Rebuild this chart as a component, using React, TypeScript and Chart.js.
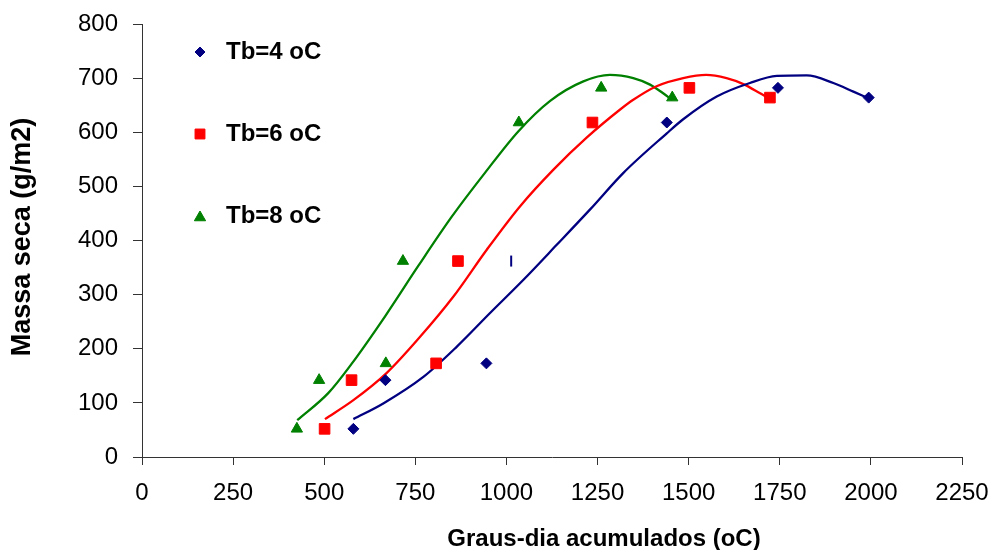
import React, { useEffect, useRef } from 'react';
import { Chart, registerables } from 'chart.js';
import { drawPoint } from 'chart.js/helpers';

Chart.register(...registerables);

// ---- data ----
const seriesNames = ['Tb=4 oC', 'Tb=6 oC', 'Tb=8 oC'];
const seriesColors = ['#000080', '#FF0000', '#008000'];
const seriesStyles = ['rectRot', 'rect', 'triangle'];

const tb4X = [580, 668, 945, 1013, 1440, 1745, 1994];
const tb4Y = [52, 142, 173, 362, 618, 682, 664];
const tb6X = [501, 575, 807, 867, 1236, 1502, 1723];
const tb6Y = [52, 142, 173, 362, 618, 682, 664];
const tb8X = [425, 486, 669, 716, 1034, 1260, 1455];
const tb8Y = [52, 142, 173, 362, 618, 682, 664];

// fitted curves
const fit4X = [580, 662, 772, 864, 955, 1046, 1138, 1229, 1321, 1440, 1485, 1577, 1668, 1742, 1824, 1897, 1952, 1993];
const fit4Y = [70, 99, 148, 204, 266, 327, 392, 457, 525, 598, 624, 666, 691, 704, 705, 691, 675, 663];
const fit6X = [502, 580, 671, 763, 854, 946, 1037, 1129, 1220, 1312, 1348, 1412, 1485, 1548, 1604, 1650, 1696, 1719];
const fit6Y = [70, 105, 155, 222, 296, 383, 463, 531, 590, 642, 660, 685, 700, 706, 700, 689, 672, 663];
const fit8X = [426, 511, 575, 667, 758, 850, 941, 1033, 1120, 1211, 1284, 1348, 1394, 1430, 1454];
const fit8Y = [68, 118, 172, 260, 353, 444, 525, 602, 658, 694, 706, 700, 688, 672, 660];

const xTitle = 'Graus-dia acumulados (oC)';
const yTitle = 'Massa seca (g/m2)';
const xMin = 0, xMax = 2250, xStep = 250;
const yMin = 0, yMax = 800, yStep = 100;

// index of the Tb=4 point that is drawn as a short vertical stroke
const tb4OddIndex = 3;

const FONT = '"Liberation Sans", Arial, Helvetica, sans-serif';

const zip = (xs: number[], ys: number[]) => xs.map((x, i) => ({ x, y: ys[i] }));

const overlayPlugin = {
  id: 'overlay',
  afterDraw(chart: any) {
    const ctx = chart.ctx as CanvasRenderingContext2D;
    const area = chart.chartArea;
    ctx.save();
    // legend inside the plot
    ctx.font = `bold 24px ${FONT}`;
    ctx.textBaseline = 'middle';
    ctx.textAlign = 'left';
    const lx = area.left + 58;
    const lys = [area.top + 28, area.top + 110, area.top + 192];
    seriesNames.forEach((name, i) => {
      ctx.fillStyle = seriesColors[i];
      ctx.strokeStyle = seriesColors[i];
      ctx.lineWidth = 1;
      const radius = i === 0 ? 5 : i === 1 ? 7 : 6.5;
      drawPoint(ctx, { pointStyle: seriesStyles[i], radius, rotation: 0, borderWidth: 1 } as any, lx, lys[i] + (i === 2 ? 1.5 : 0));
      ctx.fillStyle = '#000';
      ctx.fillText(name, lx + 26, lys[i]);
    });
    // x title
    ctx.textAlign = 'center';
    ctx.fillText(xTitle, 604, 539);
    // y title
    ctx.translate(23, 237);
    ctx.rotate(-Math.PI / 2);
    ctx.font = `bold 27px ${FONT}`;
    ctx.fillText(yTitle, 0, 0);
    ctx.restore();
  },
};

const clearPadding = (s: any) => {
  s.paddingTop = 0;
  s.paddingBottom = 0;
  s.paddingLeft = 0;
  s.paddingRight = 0;
};

export default function App() {
  const ref = useRef<HTMLCanvasElement | null>(null);
  useEffect(() => {
    document.body.style.margin = '0';
    const canvas = ref.current!;
    const pointDs = (label: string, xs: number[], ys: number[], idx: number) => ({
      label,
      data: zip(xs, ys),
      showLine: false,
      backgroundColor: seriesColors[idx],
      borderColor: seriesColors[idx],
      pointBackgroundColor: seriesColors[idx],
      pointBorderColor: seriesColors[idx],
      pointStyle: (c: any) => (idx === 0 && c.dataIndex === tb4OddIndex ? 'line' : seriesStyles[idx]),
      pointRotation: (c: any) => (idx === 0 && c.dataIndex === tb4OddIndex ? 90 : 0),
      pointRadius: () => (idx === 0 ? 5.5 : idx === 1 ? 7.5 : 6.5),
      pointBorderWidth: (c: any) => (idx === 0 && c.dataIndex === tb4OddIndex ? 2 : 1),
    });
    const curveDs = (label: string, xs: number[], ys: number[], idx: number) => ({
      label,
      data: zip(xs, ys),
      showLine: true,
      borderColor: seriesColors[idx],
      borderWidth: 2.3,
      pointRadius: 0,
      fill: false,
      cubicInterpolationMode: 'monotone' as const,
    });
    const chart = new Chart(canvas, {
      type: 'scatter',
      data: {
        datasets: [
          pointDs(seriesNames[0], tb4X, tb4Y, 0),
          pointDs(seriesNames[1], tb6X, tb6Y, 1),
          pointDs(seriesNames[2], tb8X, tb8Y, 2),
          curveDs('fit ' + seriesNames[0], fit4X, fit4Y, 0),
          curveDs('fit ' + seriesNames[1], fit6X, fit6Y, 1),
          curveDs('fit ' + seriesNames[2], fit8X, fit8Y, 2),
        ] as any,
      },
      options: {
        responsive: false,
        animation: false,
        events: [],
        layout: { padding: { left: 0, top: 24, right: 28, bottom: 0 } },
        plugins: {
          legend: { display: false },
          tooltip: { enabled: false },
        },
        scales: {
          x: {
            type: 'linear',
            min: xMin,
            max: xMax,
            ticks: {
              stepSize: xStep,
              color: '#000',
              font: { size: 24, family: FONT },
              padding: 14,
              maxRotation: 0,
              autoSkip: false,
              callback: (v: any) => String(v),
            },
            grid: { drawOnChartArea: false, drawTicks: true, tickLength: 8, color: '#333', lineWidth: 1 },
            border: { color: '#333', width: 1 },
            afterFit: (s: any) => { s.height = 93; clearPadding(s); },
          },
          y: {
            type: 'linear',
            min: yMin,
            max: yMax,
            ticks: {
              stepSize: yStep,
              color: '#000',
              font: { size: 24, family: FONT },
              padding: 15,
              callback: (v: any) => String(v),
            },
            grid: { drawOnChartArea: false, drawTicks: true, tickLength: 9, color: '#333', lineWidth: 1 },
            border: { color: '#333', width: 1 },
            afterFit: (s: any) => { s.width = 142; clearPadding(s); },
          },
        },
      },
      plugins: [overlayPlugin],
    });
    return () => chart.destroy();
  }, []);
  return (
    <div style={{ width: 990, height: 550, background: '#fff' }}>
      <canvas ref={ref} width={990} height={550} />
    </div>
  );
}
